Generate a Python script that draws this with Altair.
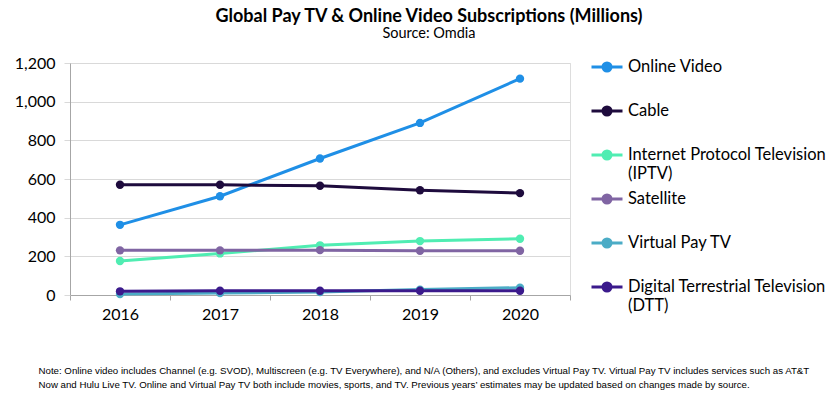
import altair as alt
import pandas as pd

years = ["2016", "2017", "2018", "2019", "2020"]
series_names = [
    "Online Video",
    "Cable",
    "Internet Protocol Television (IPTV)",
    "Satellite",
    "Virtual Pay TV",
    "Digital Terrestrial Television (DTT)",
]
online_video = [363, 511, 706, 890, 1119]
cable = [570, 570, 565, 542, 527]
iptv = [176, 215, 257, 279, 291]
satellite = [231, 231, 232, 229, 229]
virtual_pay_tv = [5, 10, 15, 28, 38]
dtt = [19, 22, 22, 22, 22]
colors = ["#1F8FE6", "#1E0B3D", "#50EDB2", "#8065A3", "#4BACC6", "#3B1A8C"]

note_lines = [
    "Note: Online video includes Channel (e.g. SVOD), Multiscreen (e.g. TV Everywhere), and N/A (Others), and excludes Virtual Pay TV. Virtual Pay TV includes services such as AT&T",
    "Now and Hulu Live TV. Online and Virtual Pay TV both include movies, sports, and TV. Previous years\u2019 estimates may be updated based on changes made by source.",
]

all_values = [online_video, cable, iptv, satellite, virtual_pay_tv, dtt]
rows = []
for name, vals in zip(series_names, all_values):
    for y, v in zip(years, vals):
        rows.append({"Year": y, "Series": name, "Value": v})
df = pd.DataFrame(rows)

label_expr = (
    "datum.label == 'Internet Protocol Television (IPTV)' ? ['Internet Protocol Television', '(IPTV)'] : "
    "datum.label == 'Digital Terrestrial Television (DTT)' ? ['Digital Terrestrial Television', '(DTT)'] : "
    "datum.label"
)

chart = alt.Chart(df).mark_line(
    strokeWidth=3,
    point=alt.OverlayMarkDef(filled=True, size=70, opacity=1),
).encode(
    x=alt.X(
        "Year:O",
        sort=years,
        scale=alt.Scale(type="band", paddingInner=0, paddingOuter=0),
        axis=alt.Axis(
            title=note_lines,
            titleFont="Liberation Sans",
            titleFontSize=9.7,
            titleFontWeight="normal",
            titleColor="#000000",
            titleAlign="left",
            titleAnchor="start",
            titleBaseline="alphabetic",
            titleX=-32,
            titleY=78,
            titleLineHeight=14,
            labelAngle=0,
            labelFont="Lato",
            labelFontSize=16,
            labelColor="#000000",
            labelPadding=6,
            tickBand="extent",
            tickSize=5,
            tickColor="#A6A6A6",
            domainColor="#A6A6A6",
            grid=False,
        ),
    ),
    y=alt.Y(
        "Value:Q",
        scale=alt.Scale(domain=[0, 1200], nice=False),
        axis=alt.Axis(
            title=None,
            values=[0, 200, 400, 600, 800, 1000, 1200],
            format=",d",
            labelFont="Lato",
            labelFontSize=16,
            labelColor="#000000",
            labelPadding=9,
            tickSize=6,
            tickColor="#D9D9D9",
            domainColor="#A6A6A6",
            gridColor="#D9D9D9",
            gridWidth=1,
        ),
    ),
    color=alt.Color(
        "Series:N",
        sort=series_names,
        scale=alt.Scale(domain=series_names, range=colors),
        legend=alt.Legend(
            title=None,
            orient="none",
            legendX=520,
            legendY=-13,
            direction="vertical",
            padding=0,
            rowPadding=0,
            gridAlign="all",
            symbolType="M-1,0H1M-0.26,0A0.26,0.26,0,1,1,0.26,0A0.26,0.26,0,1,1,-0.26,0",
            symbolSize=961,
            symbolStrokeWidth=3,
            labelOffset=4,
            labelFont="Lato",
            labelFontSize=16.5,
            labelColor="#000000",
            labelLimit=400,
            labelExpr=label_expr,
        ),
    ),
).properties(
    width=500,
    height=232,
    padding={"left": 62, "top": 55, "right": 262, "bottom": 96},
    autosize=alt.AutoSizeParams(type="none"),
    title=alt.TitleParams(
        text="Global Pay TV & Online Video Subscriptions (Millions)",
        subtitle="Source: Omdia",
        font="Lato",
        fontSize=18,
        fontWeight="bold",
        color="#000000",
        subtitleFont="Lato",
        subtitleFontSize=14.5,
        subtitleColor="#000000",
        subtitlePadding=1,
        anchor="middle",
        dx=109,
        offset=10,
    ),
).configure_view(stroke=None).configure(background="#FFFFFF")

chart.save("out.html", embed_options={"renderer": "svg", "actions": False})
